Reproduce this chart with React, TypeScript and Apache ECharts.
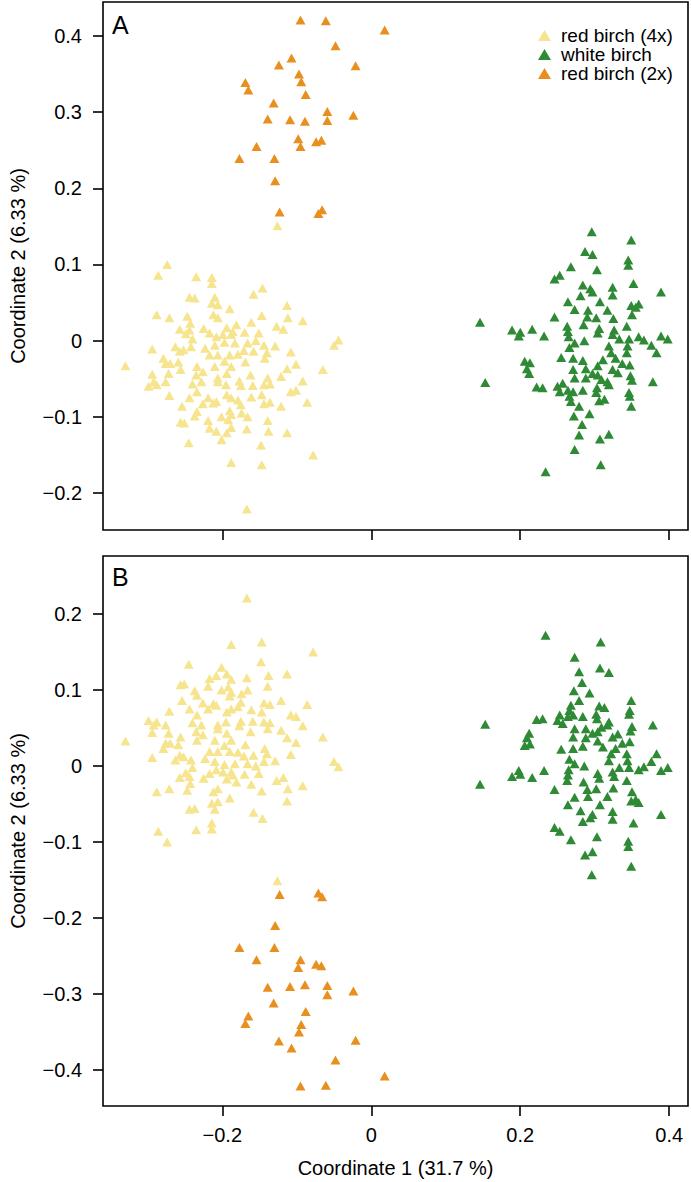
import React, { useEffect, useRef } from "react";
import * as echarts from "echarts";

const xTicks = [-0.2, 0, 0.2, 0.4];
const yTicksA = [-0.2, -0.1, 0, 0.1, 0.2, 0.3, 0.4];
const yTicksB = [-0.4, -0.3, -0.2, -0.1, 0, 0.1, 0.2];
const seriesNames = ["red birch (4x)", "white birch", "red birch (2x)"];
const seriesColors = ["#F6E58E", "#2F8A35", "#E8901F"];

// Panel A coordinates (Coordinate 1, Coordinate 2); panel B shows the same points with Coordinate 2 mirrored
const redBirch4x: [number, number][] = [
  [-0.274, 0.1], [-0.286, 0.086], [-0.235, 0.084], [-0.214, 0.083], [-0.214, 0.075], [-0.244, 0.057], [-0.237, 0.056],
  [-0.21, 0.057], [-0.214, 0.049], [-0.206, 0.047], [-0.19, 0.042], [-0.288, 0.034], [-0.271, 0.03], [-0.247, 0.032],
  [-0.212, 0.034], [-0.206, 0.03], [-0.243, 0.023], [-0.257, 0.015], [-0.244, 0.014], [-0.225, 0.016], [-0.217, 0.01],
  [-0.194, 0.017], [-0.249, 0.009], [-0.208, 0.005], [-0.199, 0.008], [-0.188, 0.008], [-0.24, 0.002], [-0.242, -0.008],
  [-0.263, -0.008], [-0.294, -0.011], [-0.257, -0.014], [-0.252, -0.012], [-0.223, -0.01], [-0.21, -0.006], [-0.197, -0.002],
  [-0.217, -0.019], [-0.206, -0.019], [-0.19, -0.019], [-0.33, -0.033], [-0.279, -0.023], [-0.276, -0.03], [-0.27, -0.03],
  [-0.259, -0.028], [-0.234, -0.034], [-0.226, -0.041], [-0.21, -0.034], [-0.197, -0.027], [-0.188, -0.034], [-0.294, -0.044],
  [-0.272, -0.043], [-0.256, -0.038], [-0.235, -0.045], [-0.206, -0.049], [-0.194, -0.043], [-0.292, -0.054], [-0.276, -0.054],
  [-0.146, 0.069], [-0.158, 0.061], [-0.113, 0.046], [-0.147, 0.033], [-0.112, 0.03], [-0.092, 0.026], [-0.161, 0.024],
  [-0.181, 0.021], [-0.127, 0.019], [-0.118, 0.015], [-0.186, 0.012], [-0.17, 0.011], [-0.151, 0.01], [-0.155, 0.0],
  [-0.166, -0.003], [-0.183, -0.003], [-0.144, -0.006], [-0.129, -0.007], [-0.044, 0.001], [-0.05, -0.006], [-0.171, -0.013],
  [-0.158, -0.014], [-0.14, -0.016], [-0.179, -0.018], [-0.108, -0.015], [-0.143, -0.023], [-0.169, -0.028], [-0.101, -0.031],
  [-0.113, -0.037], [-0.065, -0.038], [-0.162, -0.045], [-0.139, -0.049], [-0.121, -0.047], [-0.177, -0.053], [-0.092, -0.053],
  [-0.299, -0.06], [-0.288, -0.058], [-0.271, -0.072], [-0.24, -0.057], [-0.234, -0.067], [-0.244, -0.075], [-0.254, -0.086],
  [-0.228, -0.054], [-0.206, -0.054], [-0.195, -0.058], [-0.194, -0.071], [-0.188, -0.075], [-0.226, -0.083], [-0.219, -0.075],
  [-0.212, -0.082], [-0.208, -0.08], [-0.234, -0.093], [-0.237, -0.099], [-0.256, -0.107], [-0.251, -0.108], [-0.219, -0.105],
  [-0.201, -0.1], [-0.192, -0.104], [-0.188, -0.097], [-0.217, -0.115], [-0.208, -0.119], [-0.194, -0.121], [-0.201, -0.13],
  [-0.245, -0.134], [-0.188, -0.16],
  [-0.175, -0.059], [-0.159, -0.059], [-0.144, -0.058], [-0.136, -0.057], [-0.108, -0.067], [-0.101, -0.065],
  [-0.179, -0.078], [-0.161, -0.074], [-0.147, -0.071], [-0.136, -0.081], [-0.121, -0.086], [-0.086, -0.081], [-0.175, -0.084],
  [-0.144, -0.083], [-0.19, -0.092], [-0.174, -0.095], [-0.166, -0.1], [-0.139, -0.105], [-0.188, -0.114], [-0.167, -0.116],
  [-0.138, -0.119], [-0.113, -0.121], [-0.148, -0.137], [-0.078, -0.15], [-0.147, -0.163], [-0.167, -0.221],
  [-0.126, 0.151],
];

const whiteBirch: [number, number][] = [
  [0.268, 0.097], [0.253, 0.086], [0.246, 0.081], [0.264, 0.051], [0.273, 0.041], [0.246, 0.031], [0.146, 0.024],
  [0.189, 0.014], [0.2, 0.011], [0.198, 0.006], [0.216, 0.015], [0.232, 0.006], [0.263, 0.019], [0.264, 0.012],
  [0.265, 0.005], [0.266, -0.009],
  [0.296, 0.143], [0.349, 0.132], [0.287, 0.117], [0.297, 0.113], [0.345, 0.106], [0.345, 0.099], [0.303, 0.093],
  [0.352, 0.075], [0.284, 0.073], [0.294, 0.068], [0.297, 0.064], [0.324, 0.07], [0.324, 0.06], [0.281, 0.059],
  [0.389, 0.064], [0.307, 0.051], [0.349, 0.046], [0.359, 0.048], [0.355, 0.044], [0.291, 0.04], [0.317, 0.04],
  [0.35, 0.034], [0.29, 0.031], [0.302, 0.03], [0.325, 0.029], [0.285, 0.021], [0.306, 0.016], [0.343, 0.019],
  [0.304, 0.01], [0.326, 0.014], [0.324, 0.008], [0.333, 0.002], [0.346, 0.002], [0.359, 0.005], [0.389, 0.006],
  [0.398, 0.002], [0.366, 0.001], [0.286, 0.0], [0.273, -0.003], [0.319, -0.007], [0.344, -0.007], [0.376, -0.006],
  [0.206, -0.027], [0.213, -0.029], [0.209, -0.037], [0.212, -0.043], [0.153, -0.055], [0.222, -0.061], [0.23, -0.062],
  [0.25, -0.06], [0.257, -0.056], [0.253, -0.067], [0.264, -0.065], [0.266, -0.073], [0.268, -0.08], [0.255, -0.022],
  [0.271, -0.023], [0.271, -0.038], [0.273, -0.049], [0.272, -0.099], [0.273, -0.143], [0.234, -0.172],
  [0.322, -0.016], [0.343, -0.016], [0.383, -0.016], [0.284, -0.026], [0.311, -0.025], [0.328, -0.023], [0.337, -0.03],
  [0.347, -0.032], [0.304, -0.033], [0.288, -0.037], [0.324, -0.038], [0.331, -0.042], [0.297, -0.043], [0.304, -0.045],
  [0.288, -0.049], [0.309, -0.051], [0.317, -0.054], [0.348, -0.046], [0.35, -0.052], [0.378, -0.054], [0.319, -0.058],
  [0.303, -0.062], [0.302, -0.068], [0.284, -0.065], [0.271, -0.067], [0.346, -0.068], [0.347, -0.073], [0.306, -0.079],
  [0.313, -0.077], [0.279, -0.086], [0.349, -0.086], [0.293, -0.096], [0.283, -0.11], [0.279, -0.124], [0.307, -0.129],
  [0.319, -0.123], [0.308, -0.163],
];

const redBirch2x: [number, number][] = [
  [-0.095, 0.421], [-0.061, 0.42], [0.018, 0.408], [-0.048, 0.387], [-0.107, 0.371], [-0.124, 0.362], [-0.021, 0.361],
  [-0.097, 0.35], [-0.094, 0.34], [-0.169, 0.339], [-0.165, 0.329], [-0.088, 0.323], [-0.131, 0.312], [-0.059, 0.301],
  [-0.024, 0.296], [-0.139, 0.291], [-0.109, 0.29], [-0.089, 0.288], [-0.059, 0.289], [-0.098, 0.265], [-0.095, 0.255],
  [-0.074, 0.261], [-0.067, 0.263], [-0.154, 0.255], [-0.177, 0.239], [-0.13, 0.239], [-0.129, 0.21], [-0.123, 0.169],
  [-0.071, 0.167], [-0.066, 0.172],
];

const groups = [redBirch4x, whiteBirch, redBirch2x];

const FONT = "'Liberation Sans', Arial, Helvetica, sans-serif";

function fmt(v: number): string {
  if (Math.abs(v) < 1e-9) return "0";
  return (v < 0 ? "\u2212" : "") + Math.abs(v).toFixed(1);
}

function xAxis(gridIndex: number, labels: boolean): any {
  return {
    gridIndex,
    type: "value",
    min: -0.3601,
    max: 0.4252,
    axisLine: { show: false, onZero: false },
    axisTick: { show: true, inside: false, length: 10, customValues: xTicks, lineStyle: { color: "#000", width: 1.6 } },
    axisLabel: {
      show: labels,
      customValues: xTicks,
      formatter: fmt,
      fontSize: 20,
      fontFamily: FONT,
      color: "#000",
      margin: 19,
    },
    splitLine: { show: false },
    ...(labels
      ? {
          name: "Coordinate 1 (31.7 %)",
          nameLocation: "middle",
          nameGap: 52,
          nameTextStyle: { fontSize: 20, fontFamily: FONT, color: "#000" },
        }
      : {}),
  };
}

function yAxis(gridIndex: number, min: number, max: number, ticks: number[]): any {
  return {
    gridIndex,
    type: "value",
    min,
    max,
    axisLine: { show: false, onZero: false },
    axisTick: { show: true, inside: false, length: 10, customValues: ticks, lineStyle: { color: "#000", width: 1.6 } },
    axisLabel: {
      customValues: ticks,
      formatter: fmt,
      fontSize: 20,
      fontFamily: FONT,
      color: "#000",
      margin: 21,
    },
    splitLine: { show: false },
    name: "Coordinate 2 (6.33 %)",
    nameLocation: "middle",
    nameGap: 75,
    nameTextStyle: { fontSize: 20, fontFamily: FONT, color: "#000" },
  };
}

export default function App() {
  const ref = useRef<HTMLDivElement>(null);
  useEffect(() => {
    if (!ref.current) return;
    const chart = echarts.init(ref.current, undefined, { renderer: "svg" });
    const series: any[] = [];
    [0, 1].forEach((panel) => {
      groups.forEach((pts, i) => {
        series.push({
          type: "scatter",
          name: seriesNames[i],
          xAxisIndex: panel,
          yAxisIndex: panel,
          symbol: "triangle",
          symbolSize: [10, 9],
          itemStyle: { color: seriesColors[i], opacity: 1 },
          emphasis: { disabled: true },
          data: panel === 0 ? pts.map((p) => [p[0], p[1]]) : pts.map((p) => [p[0], -p[1]]),
        });
      });
    });
    chart.setOption({
      animation: false,
      textStyle: { fontFamily: FONT },
      grid: [
        { left: 97, top: 2, width: 591, height: 528, show: true, borderColor: "#000", borderWidth: 1.6, backgroundColor: "transparent" },
        { left: 97, top: 556, width: 591, height: 550, show: true, borderColor: "#000", borderWidth: 1.6, backgroundColor: "transparent" },
      ],
      xAxis: [xAxis(0, false), xAxis(1, true)],
      yAxis: [yAxis(0, -0.2486, 0.4446, yTicksA), yAxis(1, -0.4474, 0.2763, yTicksB)],
      legend: {
        show: true,
        orient: "vertical",
        left: 533,
        top: 21,
        itemWidth: 13,
        itemHeight: 11,
        itemGap: 0,
        icon: "triangle",
        selectedMode: false,
        data: seriesNames,
        textStyle: { fontSize: 19, fontFamily: FONT, color: "#000", lineHeight: 19, padding: [0, 0, 0, 5] },
      },
      graphic: [
        { type: "text", left: 112, top: 12, style: { text: "A", fontSize: 25, fontFamily: FONT, fill: "#000" } },
        { type: "text", left: 112, top: 564, style: { text: "B", fontSize: 25, fontFamily: FONT, fill: "#000" } },
      ],
      series,
    });
    return () => chart.dispose();
  }, []);
  return (
    <div
      ref={ref}
      style={{ position: "absolute", left: 0, top: 0, width: 691, height: 1182, background: "#fff" }}
    />
  );
}
